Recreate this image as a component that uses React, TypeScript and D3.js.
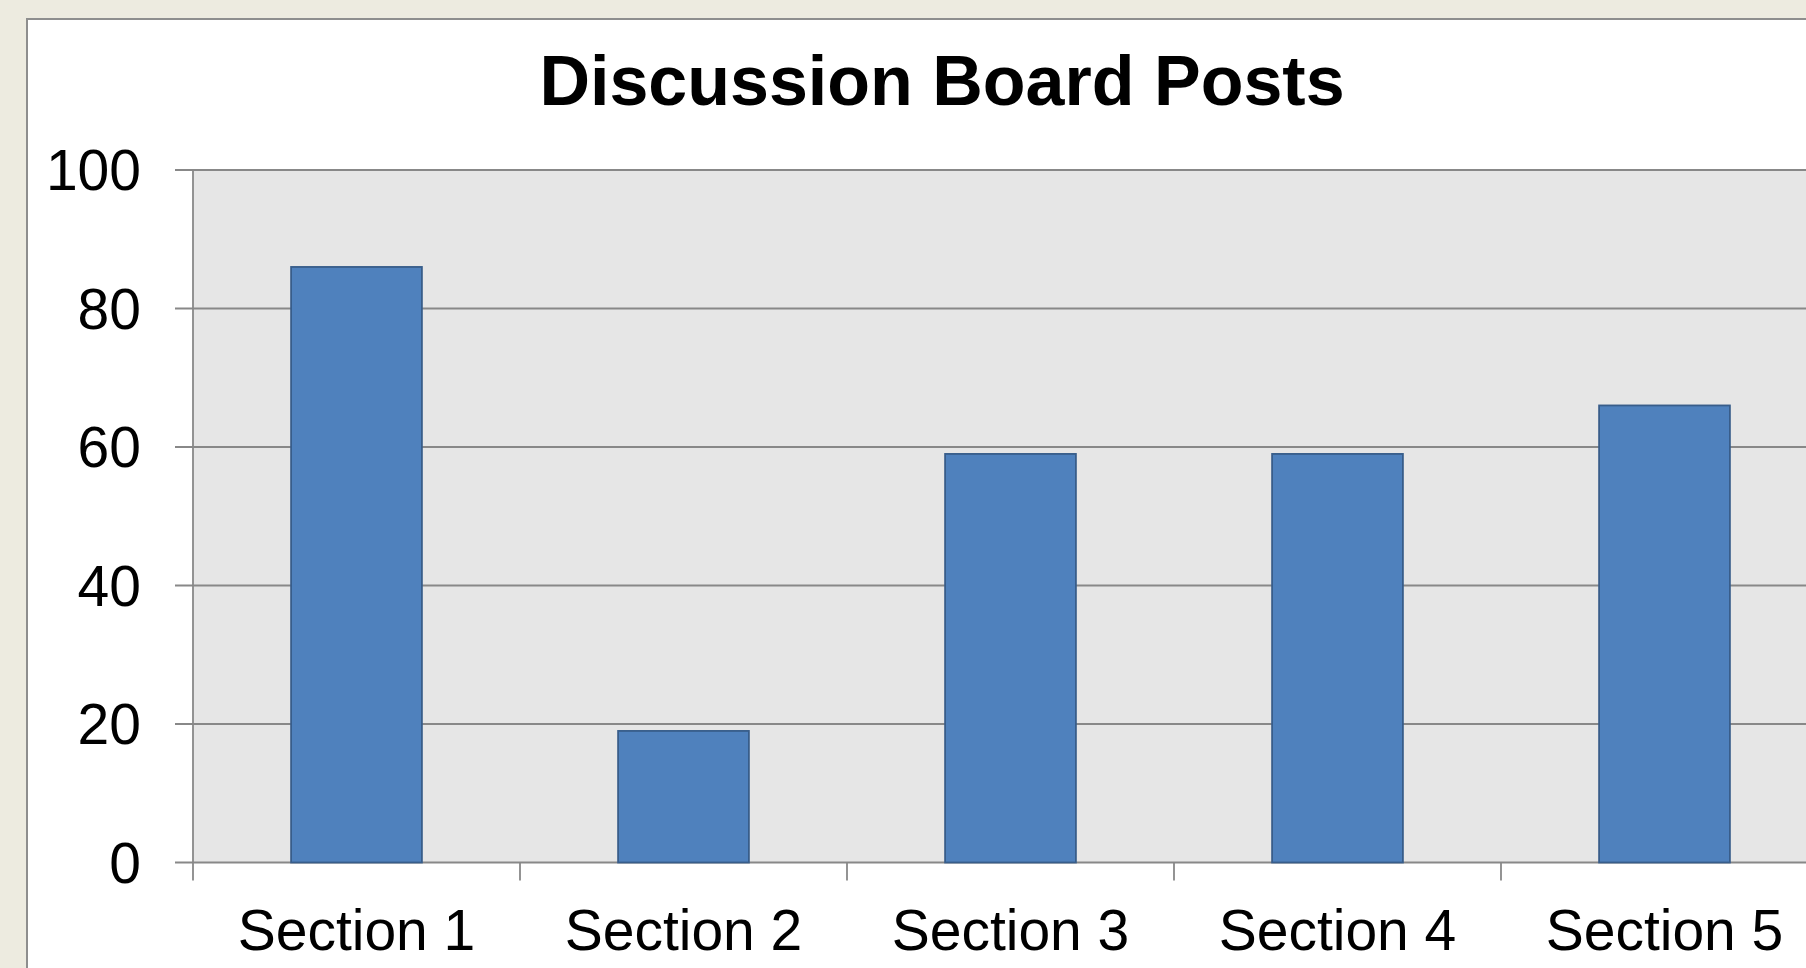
import React, { useEffect, useRef } from "react";
import * as d3 from "d3";

const title = "Discussion Board Posts";
const categories = ["Section 1", "Section 2", "Section 3", "Section 4", "Section 5"];
const posts = [86, 19, 59, 59, 66];
const yTicks = [0, 20, 40, 60, 80, 100];

export default function App() {
  const ref = useRef<SVGSVGElement | null>(null);

  useEffect(() => {
    const width = 1806,
      height = 968,
      margin = { top: 170, left: 193, bottom: 968 - 862.5 },
      step = 327,
      plotRight = margin.left + step * categories.length,
      plotBottom = height - margin.bottom;

    const svg = d3.select(ref.current);
    svg.selectAll("*").remove();

    // page background + white chart frame
    svg.append("rect").attr("width", width).attr("height", height).attr("fill", "#EDEBE0");
    svg
      .append("rect")
      .attr("x", 27)
      .attr("y", 19)
      .attr("width", width + 20)
      .attr("height", height + 20)
      .attr("fill", "#ffffff")
      .attr("stroke", "#8E8E8E")
      .attr("stroke-width", 2);

    svg
      .append("text")
      .attr("x", 942)
      .attr("y", 105)
      .attr("text-anchor", "middle")
      .style("font-family", "'Liberation Sans', Arial, sans-serif")
      .style("font-size", "70px")
      .style("font-weight", "bold")
      .text(title);

    const x = d3.scaleBand<string>().domain(categories).range([margin.left, plotRight]);
    const xBar = d3
      .scaleBand<string>()
      .domain(categories)
      .range([margin.left, plotRight])
      .paddingInner(0.6)
      .paddingOuter(0.3);
    const y = d3.scaleLinear().domain([0, 100]).range([plotBottom, margin.top]);

    // plot area
    svg
      .append("rect")
      .attr("x", margin.left)
      .attr("y", margin.top)
      .attr("width", plotRight - margin.left)
      .attr("height", plotBottom - margin.top)
      .attr("fill", "#E6E6E6");

    // gridlines + y tick marks
    svg
      .append("g")
      .selectAll("line")
      .data(yTicks)
      .enter()
      .append("line")
      .attr("x1", margin.left - 18)
      .attr("x2", plotRight)
      .attr("y1", (d) => y(d))
      .attr("y2", (d) => y(d))
      .attr("stroke", "#888888")
      .attr("stroke-width", 1.8);

    svg
      .append("g")
      .selectAll("text")
      .data(yTicks)
      .enter()
      .append("text")
      .attr("x", 141)
      .attr("y", (d) => y(d))
      .attr("text-anchor", "end")
      .attr("dominant-baseline", "central")
      .style("font-family", "'Liberation Sans', Arial, sans-serif")
      .style("font-size", "57px")
      .text((d) => d);

    // bars
    svg
      .append("g")
      .selectAll("rect")
      .data(posts)
      .enter()
      .append("rect")
      .attr("x", (d, i) => xBar(categories[i]) as number)
      .attr("y", (d) => y(d))
      .attr("width", xBar.bandwidth())
      .attr("height", (d) => plotBottom - y(d))
      .attr("fill", "#4F81BD")
      .attr("stroke", "#385D8A")
      .attr("stroke-width", 1.8);

    // axes lines
    svg
      .append("line")
      .attr("x1", margin.left)
      .attr("x2", margin.left)
      .attr("y1", margin.top)
      .attr("y2", plotBottom + 18)
      .attr("stroke", "#888888")
      .attr("stroke-width", 1.8);

    svg
      .append("g")
      .selectAll("line")
      .data(categories.slice(1))
      .enter()
      .append("line")
      .attr("x1", (d) => x(d) as number)
      .attr("x2", (d) => x(d) as number)
      .attr("y1", plotBottom)
      .attr("y2", plotBottom + 18)
      .attr("stroke", "#888888")
      .attr("stroke-width", 1.8);

    svg
      .append("g")
      .selectAll("text")
      .data(categories)
      .enter()
      .append("text")
      .attr("x", (d) => (x(d) as number) + x.bandwidth() / 2)
      .attr("y", 950)
      .attr("text-anchor", "middle")
      .style("font-family", "'Liberation Sans', Arial, sans-serif")
      .style("font-size", "57px")
      .text((d) => d);
  }, []);

  return (
    <svg
      ref={ref}
      width={1806}
      height={968}
      style={{ position: "absolute", left: 0, top: 0, display: "block" }}
    />
  );
}
